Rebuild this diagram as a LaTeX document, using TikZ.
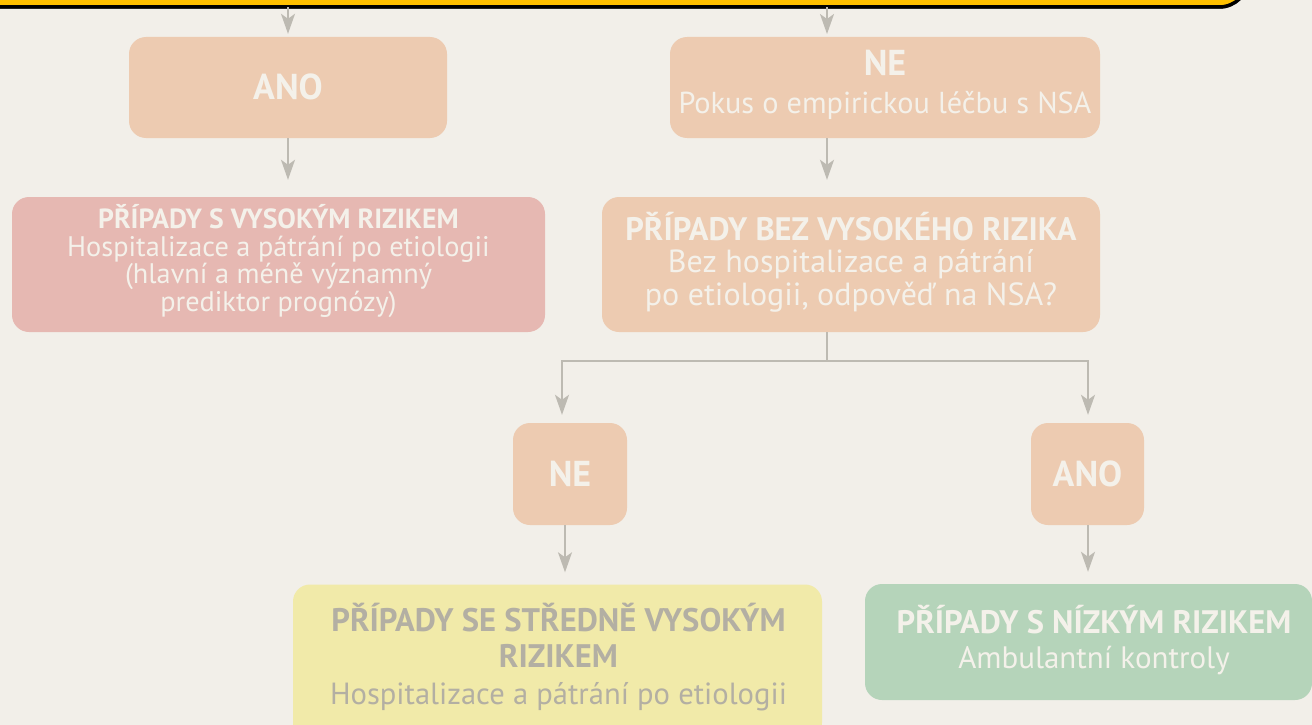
\documentclass[tikz,border=0pt]{standalone}
\usepackage{fontspec}
\setmainfont{PT Sans}
\usetikzlibrary{arrows.meta}
\definecolor{bg}{HTML}{F2EFE9}
\definecolor{peach}{HTML}{EDCBB1}
\definecolor{pinkbox}{HTML}{E6B8B2}
\definecolor{yelbox}{HTML}{F1EAA9}
\definecolor{greenbox}{HTML}{B5D4BA}
\definecolor{arrowgray}{HTML}{BDBAB2}
\definecolor{gold}{HTML}{FFC000}
\definecolor{wtext}{HTML}{F4F1EA}
\definecolor{gtext}{HTML}{B3AFA3}
\tikzset{
  box/.style={rectangle, rounded corners=17pt, draw=none, inner sep=0pt},
  txt/.style={inner sep=0pt, align=center, text=wtext},
  arr/.style={draw=arrowgray, line width=1.8pt, -{Stealth[length=20pt, width=14pt, inset=5pt]}},
  conn/.style={draw=arrowgray, line width=1.8pt},
}
\newcommand{\fs}[2]{\fontsize{#1}{#2}\selectfont}
\newcommand{\bs}[1]{\fontsize{#1}{#1}\selectfont\bfseries}
\newcommand{\rs}[1]{\fontsize{#1}{#1}\selectfont}
\begin{document}
\begin{tikzpicture}[x=1pt,y=-1pt]
\useasboundingbox[fill=bg] (0,0) rectangle (1312,725);
\begin{scope}
\clip (0,0) rectangle (1312,725);
% top banner
\node (top) [inner sep=0pt, minimum width=1290pt, minimum height=80pt] at (604,-33) {};
\fill[black!60, rounded corners=30pt] (-41,-60) rectangle (1249,9);
\draw[fill=gold, draw=black, line width=3.5pt, rounded corners=30pt] (-41,-73) rectangle (1249,7);

% boxes
\node (ano1) [box, fill=peach, minimum width=318pt, minimum height=101pt] at (288,87.5) {};
\node (ne1) [box, fill=peach, minimum width=430pt, minimum height=101pt] at (885,87.5) {};
\node (high) [box, fill=pinkbox, minimum width=533pt, minimum height=135pt] at (278.5,264.5) {};
\node (bez) [box, fill=peach, minimum width=498pt, minimum height=135pt] at (851,264.5) {};
\node (ne2) [box, fill=peach, minimum width=114pt, minimum height=102pt] at (570,474) {};
\node (ano2) [box, fill=peach, minimum width=113pt, minimum height=102pt] at (1087.5,474) {};
\node (mid) [box, fill=yelbox, minimum width=529pt, minimum height=155pt] at (557.5,662) {};
\node (low) [box, fill=greenbox, minimum width=447pt, minimum height=116pt] at (1088.5,642) {};

% texts
\node (ano1t) [txt] at (288,87) {\bs{36}ANO};
\node (ne1t) [txt, font=\fs{30}{38}] at (885,85) {\bs{36}NE\\ \rs{30.3}Pokus o empirickou léčbu s NSA};
\node (hight) [txt, font=\fs{28}{27.6}] at (278.5,261) {\bs{27.7}PŘÍPADY S VYSOKÝM RIZIKEM\\ \rs{28.3}Hospitalizace a pátrání po etiologii\\
   \rs{28.3}(hlavní a méně významný\\ \rs{28.3}prediktor prognózy)};
\node (bezt) [txt, font=\fs{32}{32.5}] at (851,262) {\bs{32.5}PŘÍPADY BEZ VYSOKÉHO RIZIKA\\ \rs{32}Bez hospitalizace a pátrání\\
   \rs{32}po etiologii, odpověď na NSA?};
\node (ne2t) [txt] at (570,474) {\bs{36}NE};
\node (ano2t) [txt] at (1087.5,474) {\bs{36}ANO};
\node (midt) [txt, text=gtext, font=\fs{31}{36.5}] at (558.5,657) {\bs{32.6}PŘÍPADY SE STŘEDNĚ VYSOKÝM\\ \bs{32.6}RIZIKEM\\ \rs{30.6}Hospitalizace a pátrání po etiologii};
\node (lowt) [txt, font=\fs{32}{35.5}] at (1094,640) {\bs{32.5}PŘÍPADY S NÍZKÝM RIZIKEM\\ \rs{31}Ambulantní kontroly};

% connectors
\draw[arr, shorten >=3pt] (top.south -| ano1) -- (ano1.north);
\draw[arr, shorten >=3pt] (top.south -| 827,0) -- (827,37);
\draw[arr, shorten >=17pt] (ano1.south) -- (ano1.south |- high.north);
\coordinate (ne1s) at (827,138);
\draw[arr, shorten >=17pt] (ne1s) -- (ne1s |- bez.north);
\coordinate (bezs) at (827,332);
\coordinate (split) at (827,361);
\draw[conn] (bezs) -- (split);
\coordinate (splitL) at (562,361);
\coordinate (splitR) at (1088,361);
\draw[arr, shorten >=8pt] (split) -- (splitL) -- (splitL |- ne2.north);
\draw[arr, shorten >=8pt] (split) -- (splitR) -- (splitR |- ano2.north);
\coordinate (ne2s) at (565,525);
\draw[arr, shorten >=12pt] (ne2s) -- (ne2s |- mid.north);
\coordinate (ano2s) at (1088,525);
\draw[arr, shorten >=12pt] (ano2s) -- (ano2s |- low.north);
\end{scope}
\end{tikzpicture}
\end{document}
